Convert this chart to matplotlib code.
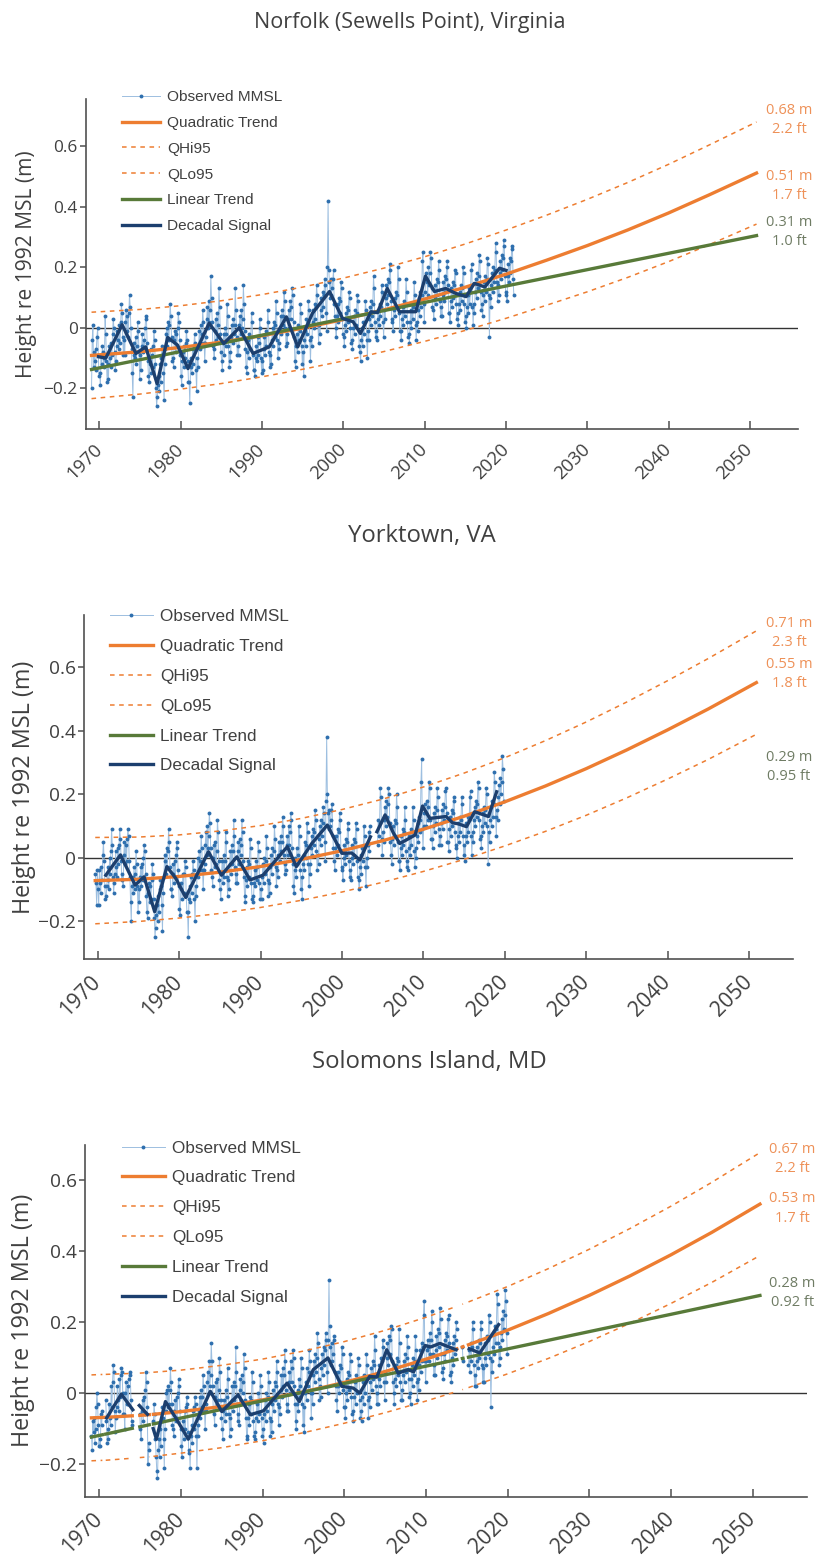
import numpy as np
import matplotlib
matplotlib.use("Agg")
import matplotlib.pyplot as plt
from matplotlib.ticker import FuncFormatter

plt.rcParams['font.family'] = ['Open Sans', 'DejaVu Sans']

nan = np.nan

# ---------------- Norfolk (Sewells Point), Virginia ----------------
norfolk_first_year = 1969
# monthly mean sea level, cm re 1992 MSL (Jan..Dec, one row per year)
norfolk_mmsl_cm = [
    -20, -4, 1, -13, -8, -11, -14, -7, -3, 0, -9, -16,        # 1969
    -15, -19, -9, -12, -6, -8, -13, -10, 4, -2, -11, -18,     # 1970
    -12, -17, -6, -10, -13, -5, -9, -2, 3, 0, -8, -14,        # 1971
    -11, -6, -1, -4, -7, 1, -5, 2, 8, 5, -3, -9,              # 1972
    -4, -9, 2, 6, -1, 4, -3, 5, 11, 7, 0, -7,                 # 1973
    -15, -23, -9, -5, -10, -3, -12, -6, 2, -1, -8, -17,       # 1974
    -9, -14, -6, -2, -8, -4, -7, 0, 4, 3, -5, -11,            # 1975
    -16, -18, -12, -7, -15, -9, -13, -6, -1, -4, -12, -20,    # 1976
    -26, -23, -19, -16, -21, -12, -18, -10, -6, -9, -15, -24, # 1977
    -12, -7, -2, 0, -6, 2, -4, 1, 8, 4, -3, -11,              # 1978
    -10, -13, -4, -1, -8, -2, -6, 0, 5, 2, -4, -9,            # 1979
    -16, -19, -11, -8, -13, -6, -10, -5, -1, -4, -11, -18,    # 1980
    -18, -25, -13, -10, -15, -7, -12, -6, -2, -5, -14, -21,   # 1981
    -10, -13, -6, -1, -7, 1, -5, -2, 6, 2, -5, -11,           # 1982
    -5, -3, 3, 7, 0, 9, 2, 6, 17, 10, 2, -6,                  # 1983
    -7, -10, -1, 3, -4, 5, -3, 1, 13, 7, -2, -8,              # 1984
    -11, -14, -5, -2, -9, 0, -6, -2, 8, 4, -6, -13,           # 1985
    -8, -11, -3, 1, -5, 3, -2, 1, 13, 6, -3, -9,              # 1986
    -6, -9, 1, 4, -2, 6, 0, 3, 14, 8, -1, -7,                 # 1987
    -13, -15, -8, -4, -10, -2, -7, -3, 5, 2, -9, -14,         # 1988
    -14, -16, -10, -6, -11, -3, -9, -5, 3, 0, -10, -15,       # 1989
    -11, -14, -7, -3, -9, -1, -6, -2, 6, 2, -8, -13,          # 1990
    -9, -12, -4, 0, -6, 2, -3, 1, 9, 5, -4, -10,              # 1991
    -5, -7, 0, 4, -2, 6, 1, 4, 12, 9, 0, -6,                  # 1992
    -2, -5, 3, 6, 0, 9, 3, 7, 13, 11, 2, -3,                  # 1993
    -11, -13, -6, -2, -8, 1, -4, -1, 8, 5, -6, -12,           # 1994
    -8, -16, -4, -1, -6, 3, -2, 2, 9, 6, -4, -11,             # 1995
    -3, -6, 2, 6, 0, 8, 3, 7, 14, 11, 1, -5,                  # 1996
    1, -2, 6, 10, 4, 12, 7, 11, 16, 14, 5, -1,                # 1997
    20, 42, 19, 15, 10, 16, 11, 13, 16, 19, 8, 4,             # 1998
    0, -3, 4, 8, 2, 10, 5, 9, 15, 13, 3, -2,                  # 1999
    -3, -6, 1, 5, -1, 7, 2, 6, 12, 10, 0, -5,                 # 2000
    -4, -7, 0, 4, -2, 6, 1, 5, 11, 9, -1, -6,                 # 2001
    -8, -11, -4, 0, -6, 2, -2, 2, 9, 6, -4, -10,              # 2002
    -1, -4, 3, 7, 1, 9, 4, 8, 17, 13, 2, -3,                  # 2003
    -1, -4, 3, 6, 1, 8, 4, 7, 14, 12, 2, -3,                  # 2004
    6, 3, 10, 14, 8, 16, 11, 15, 21, 19, 9, 3,                # 2005
    2, -1, 6, 10, 4, 12, 7, 11, 20, 16, 5, -1,                # 2006
    -1, -4, 3, 7, 1, 9, 4, 8, 16, 12, 2, -3,                  # 2007
    -2, -5, 2, 6, 0, 8, 3, 7, 15, 11, 1, -4,                  # 2008
    2, -1, 6, 10, 4, 12, 7, 11, 22, 25, 8, 2,                 # 2009
    12, 16, 18, 15, 11, 20, 14, 18, 25, 23, 13, 7,            # 2010
    6, 3, 10, 14, 8, 16, 11, 15, 22, 19, 9, 4,                # 2011
    7, 4, 11, 15, 9, 17, 12, 16, 20, 22, 14, 5,               # 2012
    5, 2, 9, 13, 7, 15, 10, 14, 19, 18, 8, 3,                 # 2013
    5, 1, 8, 12, 6, 14, 9, 13, 20, 18, 8, 2,                  # 2014
    4, 0, 7, 11, 5, 13, 8, 12, 19, 21, 7, 1,                  # 2015
    8, 5, 12, 16, 10, 18, 13, 17, 24, 22, 12, 6,              # 2016
    8, 4, 11, 15, 9, 17, 12, 16, 23, 21, 11, -3,              # 2017
    10, 7, 14, 18, 12, 20, 15, 19, 28, 25, 15, 9,             # 2018
    14, 11, 18, 22, 16, 24, 19, 23, 29, 27, 17, 11,           # 2019
    12, 9, 17, 21, 15, 23, 18, 22, 27, 26, 16, 11,            # 2020
]
norfolk_dec_years = [1969.9, 1970.8, 1972.8, 1974.5, 1975.7, 1977.1, 1978.4, 1979.6,
                     1980.9, 1983.5, 1985.3, 1987.2, 1988.9, 1990.9, 1993.0, 1994.4,
                     1996.2, 1998.3, 1999.9, 2001.2, 2002.1, 2003.4, 2004.2, 2005.4,
                     2006.9, 2008.9, 2010.1, 2011.2, 2012.6, 2013.8, 2015.1, 2016.1,
                     2017.4, 2019.2, 2020.0]
norfolk_dec_m = [-0.096, -0.10, 0.01, -0.085, -0.063, -0.185, -0.032, -0.057,
                 -0.135, 0.015, -0.052, 0.0, -0.085, -0.063, 0.036, -0.063,
                 0.048, 0.12, 0.031, 0.02, -0.019, 0.053, 0.05, 0.13,
                 0.053, 0.053, 0.171, 0.12, 0.13, 0.114, 0.103, 0.147,
                 0.135, 0.197, 0.19]
norfolk_trend_years = [1969.04, 1975, 1980, 1985, 1990, 1995, 2000, 2005, 2010,
                       2015, 2020, 2025, 2030, 2035, 2040, 2045, 2050.8]
norfolk_quad_m = [-0.0915, -0.0794, -0.065, -0.0476, -0.0262, -0.0014, 0.0273, 0.0594,
                  0.095, 0.1343, 0.1773, 0.2237, 0.272, 0.324, 0.380, 0.440, 0.512]
norfolk_band_m = [0.143, 0.140, 0.138, 0.137, 0.136, 0.136, 0.137, 0.138, 0.140,
                  0.143, 0.146, 0.149, 0.153, 0.157, 0.161, 0.165, 0.169]
norfolk_lin_years = [1969.04, 2050.8]
norfolk_lin_m = [-0.138, 0.305]
norfolk_2050_m = [0.68, 0.51, 0.31]
norfolk_2050_ft = ['2.2', '1.7', '1.0']

# ---------------- Yorktown, VA ----------------
yorktown_first_year = 1969
yorktown_mmsl_cm = [
    None, None, None, None, None, None, None, None, -5, -8, -15, -4,  # 1969
    -10, -15, -4, -8, -11, -3, -7, 1, 5, -1, -9, -13,         # 1970
    -12, -9, -3, -7, -10, 0, -5, 2, 9, 4, -6, -11,            # 1971
    -8, -5, 2, -3, -6, 3, -2, 4, 9, 6, -1, -7,                # 1972
    -5, -9, 1, 5, -2, 4, -1, 6, 9, 7, -1, -6,                 # 1973
    -14, -20, -9, -6, -11, -3, -10, -5, 2, -2, -9, -17,       # 1974
    -10, -14, -6, -3, -9, -2, -7, 0, 4, 2, -5, -12,           # 1975
    -17, -19, -11, -8, -14, -9, -13, -7, -2, -5, -13, -19,    # 1976
    -25, -22, -18, -15, -20, -12, -17, -10, -7, -9, -15, -23, # 1977
    -11, -6, -1, 1, -5, 3, -3, 2, 9, 5, -3, -10,              # 1978
    -10, -12, -5, -2, -8, -1, -6, 1, 5, 3, -4, -9,            # 1979
    -16, -18, -10, -8, -13, -5, -11, -5, -1, -3, -12, -17,    # 1980
    -17, -25, -13, -9, -14, -6, -11, -5, -1, -4, -13, -20,    # 1981
    -9, -12, -5, 0, -6, 2, -4, -1, 7, 3, -4, -10,             # 1982
    -4, -2, 4, 8, 1, 10, 3, 7, 14, 11, 3, -4,                 # 1983
    -6, -9, 0, 4, -3, 5, -2, 2, 12, 8, -1, -7,                # 1984
    -10, -13, -5, -1, -8, 1, -6, -1, 8, 5, -6, -12,           # 1985
    -7, -10, -2, 2, -5, 4, -2, 2, 12, 7, -3, -8,              # 1986
    -5, -8, 2, 5, -2, 6, 1, 4, 12, 8, -1, -6,                 # 1987
    -12, -14, -7, -3, -9, -1, -6, -2, 6, 3, -8, -13,          # 1988
    -12, -14, -8, -4, -9, -1, -7, -3, 5, 2, -8, -13,          # 1989
    -10, -13, -6, -2, -8, 0, -5, -1, 7, 3, -7, -12,           # 1990
    -8, -11, -3, 1, -5, 3, -2, 2, 10, 6, -3, -9,              # 1991
    -4, -6, 1, 5, -1, 7, 2, 5, 13, 10, 1, -5,                 # 1992
    -2, -4, 4, 7, 1, 10, 4, 8, 14, 12, 3, -2,                 # 1993
    -9, -11, -4, 0, -6, 3, -2, 1, 10, 7, -4, -10,             # 1994
    -6, -13, -2, 1, -4, 5, 0, 4, 11, 8, -2, -9,               # 1995
    -2, -5, 3, 7, 1, 9, 4, 8, 15, 12, 2, -4,                  # 1996
    1, -2, 6, 10, 4, 12, 7, 11, 16, 14, 5, -1,                # 1997
    18, 38, 20, 14, 9, 15, 10, 12, 15, 17, 7, 3,              # 1998
    -1, -4, 3, 7, 1, 9, 4, 8, 14, 12, 2, -3,                  # 1999
    -4, -7, 0, 4, -2, 6, 1, 5, 11, 9, -1, -6,                 # 2000
    -4, -7, 0, 4, -2, 6, 1, 5, 11, 9, -1, -6,                 # 2001
    -7, -10, -3, 1, -5, 3, -1, 3, 10, 7, -3, -9,              # 2002
    0, -3, 4, 8, 2, 10, None, None, None, None, None, None,   # 2003
    None, None, None, None, 4, 12, 7, 11, 22, 19, 6, 1,       # 2004
    8, 5, 12, 16, 10, 18, 13, 17, 22, 20, 11, 5,              # 2005
    1, -2, 6, 10, 4, 12, 7, 11, 20, 16, 5, -1,                # 2006
    -1, -4, 3, 7, 1, 9, 4, 8, 16, 12, 2, -3,                  # 2007
    -1, -4, 3, 7, 1, 9, 4, 8, 16, 12, 2, -3,                  # 2008
    3, 0, 7, 11, 5, 13, 8, 12, 24, 31, 9, 3,                  # 2009
    10, 14, 17, 14, 10, 18, 12, 16, 24, 22, 12, 6,            # 2010
    6, 3, 10, 14, 8, 16, 11, 15, 22, 19, 9, 4,                # 2011
    7, 4, 11, 15, 9, 17, 12, 16, 21, 22, 14, 5,               # 2012
    5, 2, 9, 13, 7, 15, 10, 14, 19, 18, 8, 3,                 # 2013
    4, 0, 7, 11, 5, 13, 8, 12, 19, 17, 7, 1,                  # 2014
    4, -1, 7, 11, 5, 13, 8, 12, 19, 21, 7, 1,                 # 2015
    8, 5, 12, 16, 10, 18, 13, 17, 24, 22, 12, 6,              # 2016
    7, 3, 10, 14, 8, 16, 11, 15, 22, 20, 10, -2,              # 2017
    8, 5, 12, 16, 10, 18, 13, 17, 27, 24, 13, 7,              # 2018
    15, 12, 19, 23, 17, 25, 20, 24, 32, 28, 18, None,         # 2019
]
yorktown_dec_years = [1971.0, 1972.8, 1974.6, 1975.7, 1977.0, 1978.5, 1979.6, 1980.8,
                      1983.6, 1985.2, 1987.1, 1988.7, 1990.3, 1993.3, 1994.4, 1996.3,
                      1998.2, 2000.0, 2001.2, 2002.2, 2003.5, 2003.9, 2004.3, 2005.3,
                      2006.3, 2007.1, 2007.9, 2009.0, 2009.9, 2010.8, 2012.8, 2013.6,
                      2014.3, 2015.3, 2016.3, 2018.0, 2019.0]
yorktown_dec_m = [-0.055, 0.009, -0.086, -0.06, -0.17, -0.028, -0.065, -0.125,
                  0.019, -0.055, 0.003, -0.07, -0.055, 0.035, -0.028, 0.045,
                  0.103, 0.014, 0.015, -0.007, 0.066, nan, 0.082, 0.135,
                  0.079, 0.045, 0.056, 0.072, 0.163, 0.124, 0.13, 0.11,
                  0.107, 0.098, 0.145, 0.13, 0.208]
yorktown_trend_years = [1969.7, 1975, 1980, 1985, 1990, 1995, 2000, 2005, 2010,
                        2015, 2020, 2025, 2030, 2035, 2040, 2045, 2050.9]
yorktown_quad_m = [-0.0721, -0.0678, -0.0590, -0.0456, -0.0277, -0.0051, 0.0220, 0.0537,
                   0.0899, 0.1308, 0.1762, 0.2262, 0.2808, 0.3400, 0.4030, 0.4690, 0.5520]
yorktown_band_m = [0.136, 0.133, 0.131, 0.130, 0.129, 0.129, 0.130, 0.131, 0.133,
                   0.136, 0.139, 0.143, 0.147, 0.151, 0.155, 0.159, 0.163]
yorktown_lin_years = []   # linear trend listed in the legend only
yorktown_lin_m = []
yorktown_2050_m = [0.71, 0.55, 0.29]
yorktown_2050_ft = ['2.3', '1.8', '0.95']

# ---------------- Solomons Island, MD ----------------
solomons_first_year = 1969
solomons_mmsl_cm = [
    -12, -16, -8, -11, -7, -14, -10, -4, 0, -3, -9, -15,      # 1969
    -13, -15, -6, -9, -5, None, None, None, None, -2, -8, -14,  # 1970
    -10, -13, -3, -7, -9, 2, -4, 3, 8, 6, -5, -11,            # 1971
    -7, -4, 2, -2, -5, 4, -1, 5, 7, 6, 0, -6,                 # 1972
    -6, -10, 0, 3, -3, 2, -3, 4, 6, 5, -2, -8,                # 1973
    -9, None, None, None, None, None, None, None, None, None, None, -6,  # 1974
    -10, -13, -5, -2, -8, -1, -6, 1, 6, 3, -4, -20,           # 1975
    -14, -16, None, None, None, None, None, -8, -3, -6, -13, -18,  # 1976
    -22, -24, -16, -13, -18, -10, -15, -8, -4, -7, -13, -21,  # 1977
    -10, -5, 0, 1, -4, 2, -3, 1, 7, 3, -3, -9,                # 1978
    -10, -12, -5, -2, -8, -1, -7, 0, 4, 2, -5, -10,           # 1979
    -15, -18, -10, -8, -13, -5, -10, -4, -1, -3, -11, -17,    # 1980
    -16, -21, -12, -9, -14, -5, -10, -4, -1, -3, -12, -21,    # 1981
    -9, -12, -5, -1, -7, 1, -4, -1, 5, 2, -5, -10,            # 1982
    -5, -3, 3, 6, 0, 9, 2, 5, 14, 9, 2, -5,                   # 1983
    -6, -9, -1, 3, -3, 4, -2, 1, 10, 6, -2, -7,               # 1984
    -10, -13, -5, -2, -8, 1, -6, -1, 7, 4, -6, -12,           # 1985
    -7, -10, -2, 2, -5, 3, -2, 2, 13, 6, -3, -8,              # 1986
    -6, -9, 1, 4, -2, 5, 0, 3, 11, 7, -2, -7,                 # 1987
    -12, -13, -7, -3, -9, -1, -6, -2, 6, 3, -8, -12,          # 1988
    -11, -13, -7, -3, -8, 0, -6, -2, 5, 2, -7, -12,           # 1989
    -10, -14, -6, -2, -8, 0, -5, -1, 6, 3, -7, -12,           # 1990
    -8, -11, -3, 1, -5, 3, -2, 2, 9, 6, -3, -9,               # 1991
    -4, -6, 1, 5, -1, 7, 2, 5, 12, 9, 1, -5,                  # 1992
    -3, -5, 3, 6, 0, 9, 3, 7, 12, 10, 2, -3,                  # 1993
    -8, -10, -3, 1, -5, 4, -1, 2, 10, 7, -3, -9,              # 1994
    -4, -11, 0, 3, -2, 7, 2, 6, 12, 9, 0, -7,                 # 1995
    0, -3, 5, 9, 3, 11, 6, 10, 17, 14, 4, -2,                 # 1996
    2, -1, 7, 11, 5, 13, 8, 12, 17, 15, 6, 0,                 # 1997
    15, 32, 19, 13, 8, 14, 9, 11, 16, 15, 6, 2,               # 1998
    -2, -5, 2, 6, 0, 8, 3, 7, 13, 11, 1, -4,                  # 1999
    -4, -7, 0, 4, -2, 6, 1, 5, 11, 9, -1, -6,                 # 2000
    -5, -8, -1, 3, -3, 5, 0, 4, 10, 8, -2, -7,                # 2001
    -5, -8, -1, 3, -3, 5, 0, 4, 11, 8, -2, -7,                # 2002
    -1, -4, 3, 7, 1, 9, 4, 8, 16, 12, 2, -3,                  # 2003
    0, -3, 4, 8, 2, 10, 5, 9, 15, 13, 3, -2,                  # 2004
    6, 3, 10, 14, 8, 16, 11, 15, 19, 18, 9, 3,                # 2005
    0, -3, 4, 8, 2, 10, 5, 9, 18, 14, 3, -2,                  # 2006
    1, -2, 5, 9, 3, 11, 6, 10, 16, 13, 4, -1,                 # 2007
    0, -3, 4, 8, 2, 10, 5, 9, 16, 12, 3, -2,                  # 2008
    4, 1, 8, 12, 6, 14, 9, 13, 22, 26, 9, 3,                  # 2009
    9, 12, 15, 13, 9, 17, 11, 15, 23, 20, 11, 5,              # 2010
    8, 5, 12, 16, 10, 18, 13, 17, 24, 21, 11, 6,              # 2011
    7, 4, 11, 15, 9, 17, 12, 16, 21, 22, 14, 5,               # 2012
    6, 3, 10, 14, 8, 16, 11, 15, 20, 18, None, None,          # 2013
    None, None, None, None, None, 13, 9, None, None, None, None, None,  # 2014
    None, None, 8, 12, 6, 14, 9, 13, 20, 18, 8, 2,            # 2015
    5, 2, 9, 13, 7, 15, 10, 14, 20, 18, 8, 3,                 # 2016
    7, 3, 10, 14, 8, 16, 11, 15, 22, 20, 10, -4,              # 2017
    9, 6, 13, 17, 11, 19, 14, 18, 28, 25, 14, 8,              # 2018
    13, 10, 17, 21, 15, 23, 18, 22, 29, 26, 17, 11,           # 2019
]
solomons_dec_years = [1970.9, 1972.7, 1974.1, 1974.5, 1974.9, 1975.9, 1976.3, 1976.6,
                      1977.0, 1978.1, 1979.5, 1980.9, 1983.6, 1985.0, 1987.0, 1988.5,
                      1990.1, 1993.0, 1994.5, 1996.2, 1998.0, 1999.7, 2001.1, 2001.9,
                      2003.1, 2004.0, 2005.2, 2006.6, 2007.8, 2008.5, 2009.9, 2010.6,
                      2011.7, 2013.7, 2014.5, 2015.3, 2016.6, 2018.9]
solomons_dec_m = [-0.07, -0.003, -0.047, nan, -0.035, -0.06, nan, -0.10,
                  -0.13, -0.024, -0.075, -0.13, 0.005, -0.052, -0.005, -0.061,
                  -0.05, 0.028, -0.024, 0.066, 0.099, 0.019, 0.014, 0.0,
                  0.047, 0.045, 0.122, 0.056, 0.066, 0.06, 0.134, 0.13,
                  0.14, 0.122, nan, 0.125, 0.113, 0.193]
solomons_trend_years = [1969.04, 1970.375, 1970.58, 1970.79, 1974.04, 1974.5, 1974.96,
                        1976.125, 1976.375, 1976.625, 1980, 1985, 1990, 1995, 2000,
                        2005, 2010, 2013.79, 2014.1, 2014.46, 2014.54, 2014.9, 2015.21,
                        2020, 2025, 2030, 2035, 2040, 2045, 2050.9]
solomons_quad_m = [-0.0698, -0.0686, nan, -0.0683, -0.0641, nan, -0.0628,
                   -0.0608, nan, -0.0598, -0.0523, -0.0378, -0.0192, 0.0033, 0.0300,
                   0.0607, 0.0955, 0.1246, nan, 0.1299, 0.1306, nan, 0.1361,
                   0.1772, 0.2242, 0.2752, 0.3303, 0.3895, 0.4527, 0.5325]
solomons_band_m = [0.121, 0.121, 0.121, 0.121, 0.1195, 0.119, 0.119,
                   0.1187, 0.1186, 0.1185, 0.117, 0.116, 0.115, 0.115, 0.115,
                   0.116, 0.118, 0.120, 0.120, 0.1203, 0.1204, 0.1205, 0.1207,
                   0.123, 0.1265, 0.130, 0.1335, 0.137, 0.141, 0.145]
solomons_lin_years = solomons_trend_years
solomons_lin_m = [-0.124, -0.1175, nan, -0.1155, -0.0993, nan, -0.0951,
                  -0.0894, nan, -0.0870, -0.0704, -0.0460, -0.0217, 0.0027, 0.0270,
                  0.0514, 0.0758, 0.0943, nan, 0.0975, 0.0979, nan, 0.1012,
                  0.1245, 0.1488, 0.1732, 0.1976, 0.2219, 0.2463, 0.2750]
solomons_2050_m = [0.67, 0.53, 0.28]
solomons_2050_ft = ['2.2', '1.7', '0.92']

# colours
LIGHT = '#9DBFE0'
BLUE = '#2E6FAE'
ORANGE = '#ED7D31'
GREEN = '#587A39'
NAVY = '#1C3F6E'
LBL_ORANGE = '#EE9158'
LBL_GREEN = '#6F7C64'
TXT = '#404040'

W, H = 820, 1562


def fmt_y(v, pos):
    if abs(v) < 1e-9:
        return '0'
    return ('%.1f' % v).replace('-', '\u2212')


def draw_station(ax, lay, first_year, mmsl_cm, dec_years, dec_m, trend_years, quad_m,
                 band_m, lin_years, lin_m, end_m, end_ft):
    mmsl = np.array(mmsl_cm, dtype=float) / 100.0
    t = first_year + (np.arange(len(mmsl)) + 0.5) / 12.0
    quad = np.array(quad_m, dtype=float)
    band = np.array(band_m, dtype=float)
    s = lay['scale']

    ax.axhline(0, color='#333333', lw=1.0, zorder=1)
    ax.plot(t, mmsl, color=LIGHT, lw=0.7, marker='o', ms=2.8, mfc=BLUE, mec=BLUE,
            mew=0, label='Observed MMSL', zorder=2)
    ax.plot(trend_years, quad, color=ORANGE, lw=2.4, label='Quadratic Trend', zorder=4)
    ax.plot(trend_years, quad + band, color=ORANGE, lw=1.1, ls=(0, (3, 3)),
            label='QHi95', zorder=3)
    ax.plot(trend_years, quad - band, color=ORANGE, lw=1.1, ls=(0, (3, 3)),
            label='QLo95', zorder=3)
    ax.plot(lin_years, lin_m, color=GREEN, lw=2.4, label='Linear Trend', zorder=4)
    ax.plot(dec_years, dec_m, color=NAVY, lw=2.4, label='Decadal Signal', zorder=5)

    ax.set_xlim(*lay['xlim'])
    ax.set_ylim(*lay['ylim'])
    ax.set_xticks(range(1970, 2051, 10))
    ax.set_yticks([-0.2, 0, 0.2, 0.4, 0.6])
    ax.yaxis.set_major_formatter(FuncFormatter(fmt_y))
    for side in ('top', 'right'):
        ax.spines[side].set_visible(False)
    for side in ('left', 'bottom'):
        ax.spines[side].set_color('#505050')
        ax.spines[side].set_linewidth(1.2)
    ax.tick_params(axis='x', direction='in', length=6, width=1.1, color='#505050',
                   labelsize=lay['xtick_fs'], labelcolor=TXT, pad=lay['xpad'])
    ax.tick_params(axis='y', direction='out', length=4, width=1.1, color='#505050',
                   labelsize=13.8 * s, labelcolor=TXT, pad=2)
    for lbl in ax.get_xticklabels():
        lbl.set_rotation(45)
        lbl.set_ha('right')
        lbl.set_va('center')
        lbl.set_rotation_mode('anchor')

    ax.set_title(lay['title'], fontsize=17.2 * s, color=TXT, x=lay['title_xy'][0],
                 y=lay['title_xy'][1], pad=0, va='center')
    ax.set_ylabel('Height re 1992 MSL (m)', fontsize=16.8 * s, color=TXT)
    ax.yaxis.set_label_coords(lay['ylabel_x'], 0.5)
    ax.yaxis.label.set_va('center')

    leg = ax.legend(loc='upper left', bbox_to_anchor=lay['legend'], frameon=False,
                    prop={'family': ['Liberation Sans', 'DejaVu Sans'], 'size': 12.3 * s},
                    handlelength=2.5, handletextpad=0.45, labelspacing=lay['lspace'],
                    borderaxespad=0, borderpad=0, numpoints=1, labelcolor=TXT)
    leg.set_zorder(6)

    colors = [LBL_ORANGE, LBL_ORANGE, LBL_GREEN]
    for m, ft, yv, c in zip(end_m, end_ft, lay['label_y'], colors):
        ax.text(lay['label_x'], yv, '%.2f m\n%s ft' % (m, ft), ha='center', va='center',
                fontsize=10.5, color=c, linespacing=1.37, clip_on=False)


fig = plt.figure(figsize=(W / 100, H / 100), dpi=100)


def px_axes(left, right, top, bottom):
    return fig.add_axes([left / W, 1 - bottom / H, (right - left) / W, (bottom - top) / H])


ax1 = px_axes(86, 798, 99, 429)
ax2 = px_axes(84, 793, 615, 959.3)
ax3 = px_axes(85, 807.3, 1145, 1496.7)

lay1 = dict(scale=0.9, xlim=(1968.36, 2055.9), ylim=(-0.335, 0.757),
            title='Norfolk (Sewells Point), Virginia', title_xy=(0.455, 1.233),
            ylabel_x=-0.084, legend=(0.0506, 1.027), lspace=0.77,
            xtick_fs=13.3, xpad=12.5,
            label_x=2054.8, label_y=[0.687, 0.469, 0.316])
lay2 = dict(scale=1.0, xlim=(1968.32, 2055.4), ylim=(-0.320, 0.765),
            title='Yorktown, VA', title_xy=(0.477, 1.229),
            ylabel_x=-0.0846, legend=(0.0367, 1.017), lspace=0.87,
            xtick_fs=15.2, xpad=14,
            label_x=2054.9, label_y=[0.709, 0.580, 0.287])
lay3 = dict(scale=1.0, xlim=(1968.25, 2056.7), ylim=(-0.292, 0.699),
            title='Solomons Island, MD', title_xy=(0.477, 1.236),
            ylabel_x=-0.0854, legend=(0.0512, 1.0126), lspace=0.87,
            xtick_fs=15.2, xpad=14,
            label_x=2054.9, label_y=[0.660, 0.520, 0.282])

draw_station(ax1, lay1, norfolk_first_year, norfolk_mmsl_cm, norfolk_dec_years,
             norfolk_dec_m, norfolk_trend_years, norfolk_quad_m, norfolk_band_m,
             norfolk_lin_years, norfolk_lin_m, norfolk_2050_m, norfolk_2050_ft)
draw_station(ax2, lay2, yorktown_first_year, yorktown_mmsl_cm, yorktown_dec_years,
             yorktown_dec_m, yorktown_trend_years, yorktown_quad_m, yorktown_band_m,
             yorktown_lin_years, yorktown_lin_m, yorktown_2050_m, yorktown_2050_ft)
draw_station(ax3, lay3, solomons_first_year, solomons_mmsl_cm, solomons_dec_years,
             solomons_dec_m, solomons_trend_years, solomons_quad_m, solomons_band_m,
             solomons_lin_years, solomons_lin_m, solomons_2050_m, solomons_2050_ft)

fig.savefig('out.png', dpi=100, facecolor='white')
